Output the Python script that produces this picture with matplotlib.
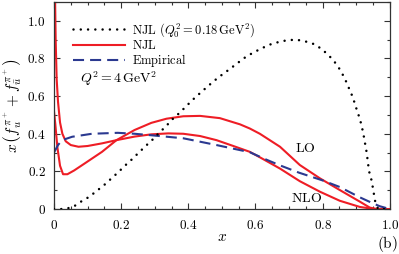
import matplotlib
matplotlib.use("Agg")
import matplotlib.pyplot as plt
from matplotlib.ticker import MultipleLocator, FixedLocator

plt.rcParams['mathtext.fontset'] = 'cm'
plt.rcParams['font.family'] = ['DejaVu Serif']

# ---------------- data ----------------
x_q0 = [0, 0.03, 0.056, 0.08, 0.105, 0.127, 0.149, 0.17, 0.191, 0.211, 0.232, 0.252, 0.273,
        0.293, 0.313, 0.332, 0.352, 0.372, 0.392, 0.412, 0.435, 0.454, 0.476, 0.499, 0.522,
        0.544, 0.566, 0.59, 0.615, 0.641, 0.668, 0.694, 0.722, 0.75, 0.777, 0.80, 0.821,
        0.841, 0.855, 0.868, 0.879, 0.89, 0.898, 0.907, 0.915, 0.921, 0.931, 0.938, 0.946,
        0.951, 0.956, 0.965, 1.0]
y_q0 = [0, 0, 0.01, 0.039, 0.065, 0.096, 0.127, 0.161, 0.195, 0.23, 0.264, 0.299, 0.335,
        0.368, 0.405, 0.437, 0.476, 0.508, 0.543, 0.579, 0.616, 0.646, 0.68, 0.712, 0.742,
        0.772, 0.802, 0.828, 0.851, 0.873, 0.887, 0.897, 0.90, 0.89, 0.875, 0.846, 0.811,
        0.77, 0.731, 0.685, 0.639, 0.593, 0.547, 0.499, 0.451, 0.402, 0.301, 0.202, 0.15,
        0.097, 0.044, 0.0, 0.0]

x_lo = [0, 0.004, 0.01, 0.018, 0.027, 0.04, 0.06, 0.092, 0.143, 0.186, 0.24, 0.29, 0.335,
        0.385, 0.435, 0.494, 0.554, 0.583, 0.613, 0.673, 0.732, 0.792, 0.851, 0.911, 0.94,
        0.96, 1.0]
y_lo = [0.52, 0.45, 0.33, 0.23, 0.185, 0.185, 0.205, 0.243, 0.304, 0.366, 0.42, 0.458, 0.48,
        0.493, 0.495, 0.483, 0.45, 0.428, 0.40, 0.331, 0.234, 0.163, 0.101, 0.039, 0.008,
        0.0, 0.0]

x_nlo = [0.003, 0.005, 0.008, 0.012, 0.018, 0.025, 0.035, 0.05, 0.073, 0.1, 0.143, 0.186,
         0.24, 0.29, 0.34, 0.385, 0.435, 0.484, 0.534, 0.583, 0.613, 0.673, 0.732, 0.792,
         0.851, 0.911, 0.95, 1.0]
y_nlo = [1.15, 0.9, 0.69, 0.57, 0.46, 0.40, 0.36, 0.34, 0.331, 0.335, 0.349, 0.366,
         0.385, 0.397, 0.402, 0.400, 0.388, 0.366, 0.335, 0.304, 0.275, 0.215, 0.148, 0.092,
         0.044, 0.011, 0.001, 0.0]

x_emp = [0, 0.012, 0.024, 0.054, 0.113, 0.19, 0.24, 0.29, 0.385, 0.484, 0.583, 0.633,
         0.673, 0.73, 0.80, 0.851, 0.911, 0.95, 0.97, 1.0]
y_emp = [0.30, 0.34, 0.366, 0.384, 0.40, 0.405, 0.40, 0.392, 0.376, 0.34, 0.302, 0.262,
         0.232, 0.193, 0.152, 0.117, 0.062, 0.03, 0.015, 0.0]

xticks = [0, 0.2, 0.4, 0.6, 0.8, 1.0]
xticklabels = ['$0$', '$0.2$', '$0.4$', '$0.6$', '$0.8$', '$1.0$']
yticks = [0, 0.2, 0.4, 0.6, 0.8, 1.0]
yticklabels = ['$0$', '$0.2$', '$0.4$', '$0.6$', '$0.8$', '$1.0$']

label_q0 = r'$\mathrm{NJL}\ (Q_0^2 = 0.18\,\mathrm{GeV}^2)$'
label_njl = r'$\mathrm{NJL}$'
label_emp = r'$\mathrm{Empirical}$'

RED = '#EE1D25'
BLUE = '#2B3990'

fig = plt.figure(figsize=(3.99, 2.54), dpi=100)
ax = fig.add_axes([0.1353, 0.177, 0.977 - 0.1353, 0.992 - 0.177])

ax.plot(x_q0, y_q0, color='black', lw=1.8, linestyle=(0, (0.01, 2.9)),
        dash_capstyle='round', label=label_q0, zorder=3)
ax.plot(x_lo, y_lo, color=RED, lw=1.5, label=label_njl, zorder=2)
ax.plot(x_nlo, y_nlo, color=RED, lw=1.5, zorder=2)
ax.plot(x_emp, y_emp, color=BLUE, lw=1.5, linestyle=(0, (5.3, 2.9)),
        label=label_emp, zorder=2)

ax.set_xlim(0, 1)
ax.set_ylim(0, 1.1)
ax.xaxis.set_major_locator(FixedLocator(xticks))
ax.set_xticklabels(xticklabels)
ax.yaxis.set_major_locator(FixedLocator(yticks))
ax.set_yticklabels(yticklabels)
ax.xaxis.set_minor_locator(MultipleLocator(0.05))
ax.yaxis.set_minor_locator(MultipleLocator(0.1))
ax.tick_params(which='both', direction='in', top=True, right=True, labelsize=9.5,
               color='#333333', width=0.8)
ax.tick_params(which='major', length=4)
ax.tick_params(which='minor', length=2.5)
ax.tick_params(axis='x', pad=7)
ax.tick_params(axis='y', pad=6)
for s in ax.spines.values():
    s.set_linewidth(0.9)
    s.set_color('#333333')

ax.set_xlabel(r'$x$', fontsize=11, labelpad=-1)
ax.set_ylabel(r'$x\,\left(f_u^{\pi^+} + f_{\bar{u}}^{\pi^+}\right)$', fontsize=11, labelpad=2)

leg = ax.legend(loc='upper left', bbox_to_anchor=(0.056, 0.908), frameon=False,
                fontsize=9, handlelength=4.15, handletextpad=0.55, labelspacing=0.02,
                borderpad=0, borderaxespad=0)

ax.text(0.077, 0.672, r'$Q^2 = 4\,\mathrm{GeV}^2$', fontsize=10, va='baseline', ha='left')
ax.text(0.748, 0.327, r'$\mathrm{LO}$', fontsize=10, va='center', ha='center')
ax.text(0.752, 0.061, r'$\mathrm{NLO}$', fontsize=10, va='center', ha='center')
fig.text(387 / 399, 1 - 243.5 / 254, r'$(\mathrm{b})$', fontsize=11, va='center', ha='center')

fig.savefig('out.png', dpi=100)
